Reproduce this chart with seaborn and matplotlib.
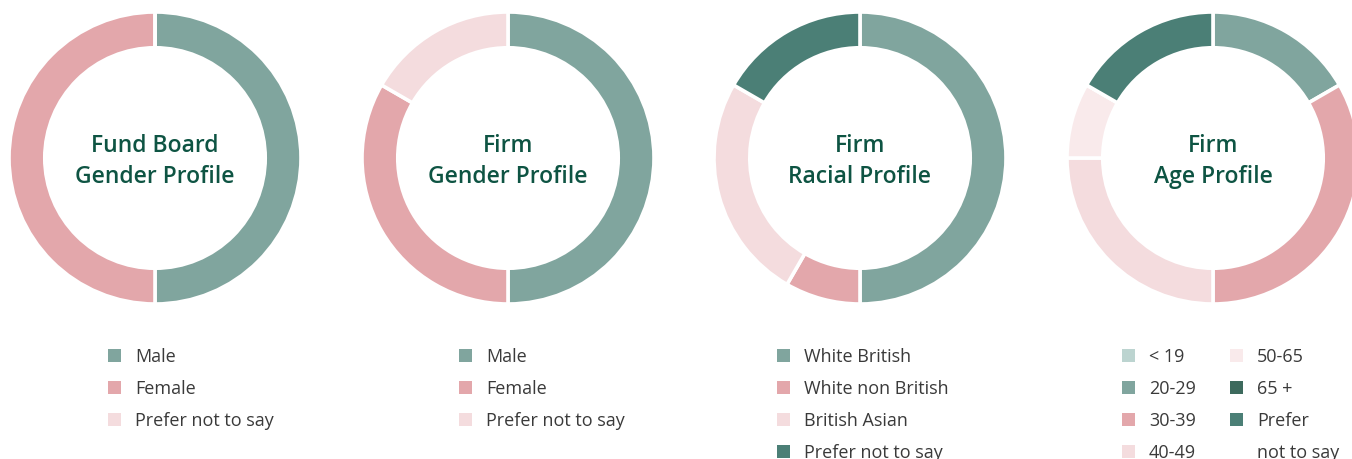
import matplotlib
matplotlib.use("Agg")
import matplotlib.pyplot as plt
from matplotlib.patches import Patch
import seaborn as sns

sns.set_theme(style="white")
plt.rcParams['font.family'] = ['Open Sans', 'DejaVu Sans']

# ---- data ----
titles = ["Fund Board\nGender Profile", "Firm\nGender Profile", "Firm\nRacial Profile", "Firm\nAge Profile"]

gender_labels = ["Male", "Female", "Prefer not to say"]
board_gender_values = [1, 1, 0]
firm_gender_values = [6, 4, 2]

race_labels = ["White British", "White non British", "British Asian", "Prefer not to say"]
race_values = [6, 1, 3, 2]

age_labels = ["< 19", "20-29", "30-39", "40-49", "50-65", "65 +", "Prefer\nnot to say"]
age_values = [0, 2, 4, 3, 1, 0, 2]

gender_colors = ["#80a59e", "#e3a7ab", "#f4dcde"]
race_colors = ["#80a59e", "#e3a7ab", "#f4dcde", "#4b7f76"]
age_colors = ["#bcd4d0", "#80a59e", "#e3a7ab", "#f4dcde", "#f9eaeb", "#3d6a5d", "#4b7f76"]

# ---- layout ----
W, H = 1352, 459
fig = plt.figure(figsize=(W / 100, H / 100), dpi=100)

centers = [155, 508, 860, 1213]
cy = 158
R = 146

datasets = [
    (board_gender_values, gender_colors),
    (firm_gender_values, gender_colors),
    (race_values, race_colors),
    (age_values, age_colors),
]

title_color = "#0e5443"
text_color = "#3a3a3a"

for cx, (vals, cols), title in zip(centers, datasets, titles):
    ax = fig.add_axes([(cx - R) / W, (H - cy - R) / H, 2 * R / W, 2 * R / H])
    ax.pie(vals, colors=cols, startangle=90, counterclock=False, radius=1.0,
           wedgeprops=dict(width=0.245, edgecolor="white", linewidth=2.6))
    ax.set_xlim(-1, 1)
    ax.set_ylim(-1, 1)
    ax.set_aspect("equal")
    ax.axis("off")
    ax.text(0, -0.025, title, ha="center", va="center", fontsize=16.5,
            fontweight="semibold", color=title_color, linespacing=1.4)

legend_kw = dict(loc="upper left", frameon=False, fontsize=13, handlelength=0.72,
                 handleheight=0.72, handletextpad=0.78, labelspacing=0.77,
                 borderpad=0, borderaxespad=0, labelcolor=text_color)

legend_top = 1 - 348 / H

def handles(cols):
    return [Patch(facecolor=c, edgecolor="none") for c in cols]

fig.legend(handles(gender_colors), gender_labels, bbox_to_anchor=(108 / W, legend_top), **legend_kw)
fig.legend(handles(gender_colors), gender_labels, bbox_to_anchor=(459 / W, legend_top), **legend_kw)
fig.legend(handles(race_colors), race_labels, bbox_to_anchor=(777 / W, legend_top), **legend_kw)

# age legend: two columns; the multi-line label is split so the marker sits on the first line
age_leg_labels = age_labels[:-1] + ["Prefer", "not to say"]
age_leg_handles = handles(age_colors) + [Patch(facecolor="none", edgecolor="none")]
fig.legend(age_leg_handles, age_leg_labels, bbox_to_anchor=(1122 / W, legend_top),
           ncol=2, columnspacing=1.87, **legend_kw)

fig.savefig("out.png", dpi=100, facecolor="white")
